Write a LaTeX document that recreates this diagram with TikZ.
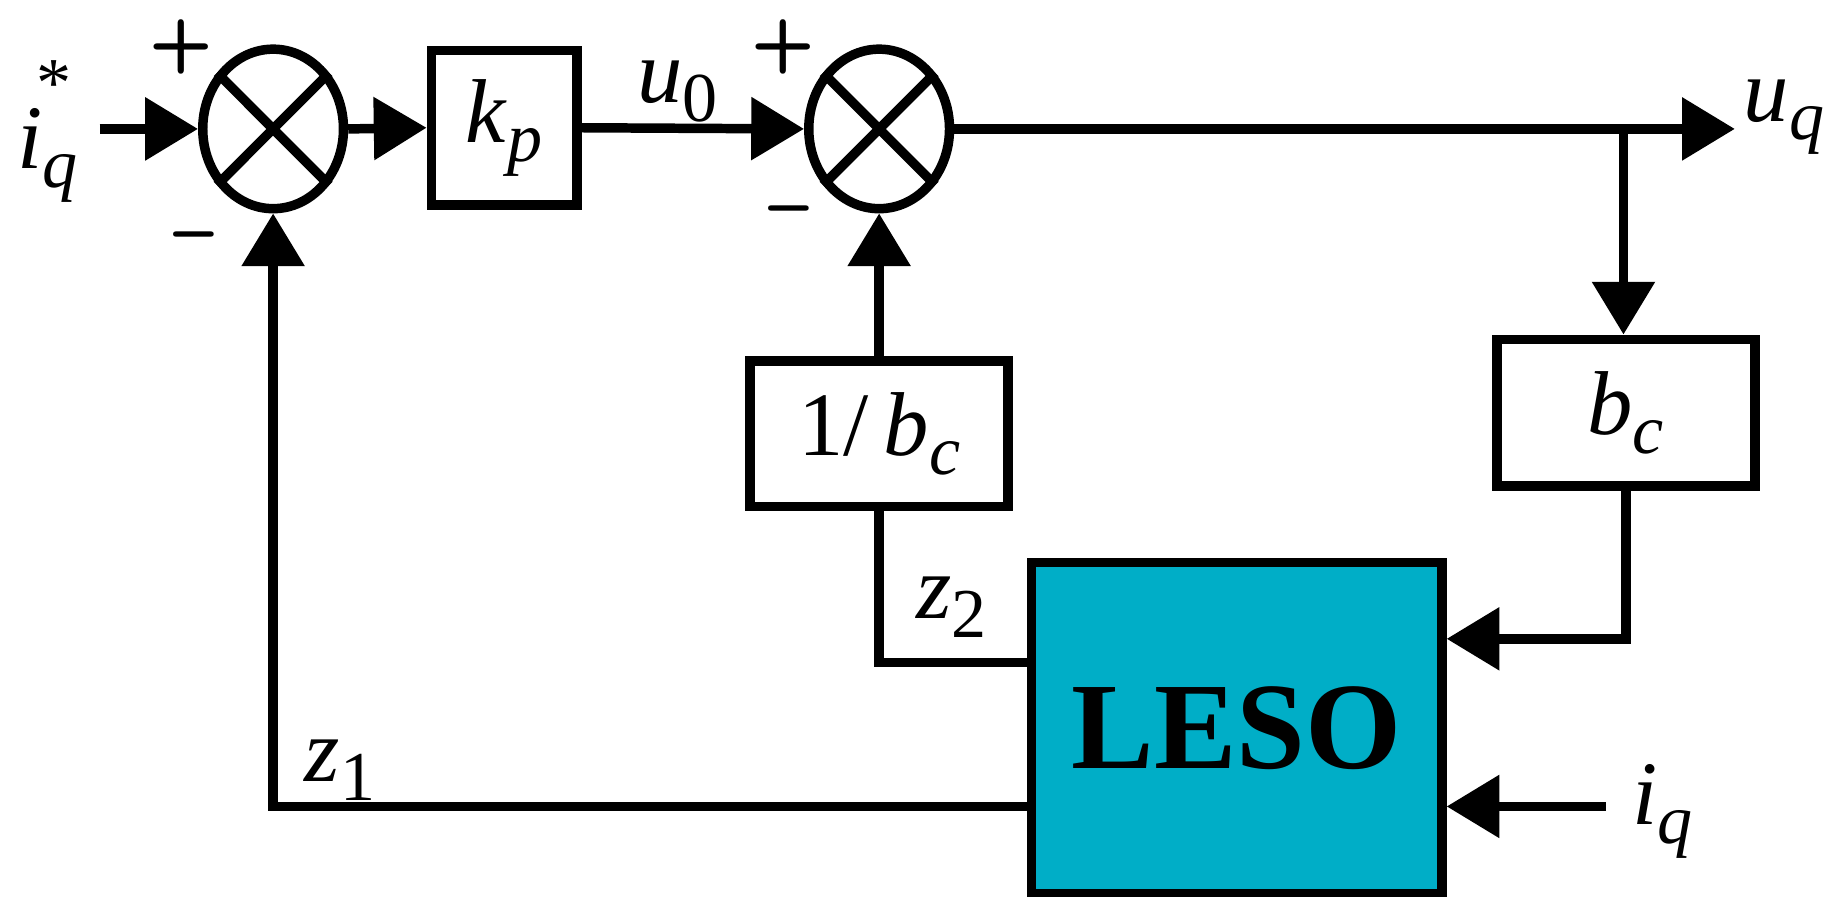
\documentclass[tikz,border=0pt]{standalone}
\usepackage{fontspec}
\setmainfont{Liberation Serif}
\usetikzlibrary{arrows.meta,shapes.geometric}
\newcommand{\lowsub}[1]{\raisebox{-0.45ex}{\fontsize{17}{17}\selectfont\textit{#1}}}
\newcommand{\lowsubr}[1]{\raisebox{-0.45ex}{\fontsize{17}{17}\selectfont #1}}
\definecolor{lesoc}{RGB}{0,174,199}
\begin{document}
\begin{tikzpicture}[x=0.01cm,y=-0.01cm,line width=2.3pt,
  sum/.style={draw,ellipse,minimum width=1.2cm,minimum height=1.36cm,inner sep=0},
  arr/.style={-{Triangle[length=0.45cm,width=0.52cm]}},
  lbl/.style={font=\fontsize{22}{24}\selectfont},
  sgn/.style={font=\sffamily\bfseries\fontsize{18}{18}\selectfont}]
\useasboundingbox (0,0) rectangle (1568,765);
\node[sum] (s1) at (233,110) {};
\draw (s1.45) -- (s1.225) (s1.135) -- (s1.315);
\node[sum] (s2) at (750,110) {};
\draw (s2.45) -- (s2.225) (s2.135) -- (s2.315);
\node[draw,minimum width=1.24cm,minimum height=1.32cm,inner sep=0,lbl] (kp) at (430,109) {\textit{k}\lowsub{p}};
\node[draw,minimum width=2.2cm,minimum height=1.24cm,inner sep=0,lbl] (ib) at (750,370) {1/\,\textit{b}\lowsub{c}};
\node[draw,minimum width=2.2cm,minimum height=1.25cm,inner sep=0,lbl] (bc) at (1387,352) {\textit{b}\lowsub{c}};
\node[draw,fill=lesoc,minimum width=3.5cm,minimum height=2.82cm,inner sep=0,font=\bfseries\fontsize{30}{30}\selectfont] (leso) at (1055,621) {LESO};
\coordinate (in1) at (85,110);
\coordinate (out) at (1480,110);
\coordinate (br) at (1385,110);
\coordinate (iqin) at (1370,688);
\coordinate (y545) at (0,545);
\coordinate (y565) at (0,565);
\coordinate (y688) at (0,688);
\draw[arr] (in1) -- (s1.west);
\draw[arr] (s1.east) -- (kp.west);
\draw[arr] (kp.east) -- (s2.west);
\draw[arr] (s2.east) -- (out);
\draw[arr] (br) -- (br|-bc.north);
\draw[arr] (bc.south) |- (leso.east|-y545);
\draw[arr] (iqin) -- (leso.east|-iqin);
\draw[arr] (leso.west|-y688) -| (s1.south);
\draw[arr] (ib.north) -- (s2.south);
\draw (ib.south) |- (leso.west|-y565);
\node[lbl] at (38,112) {\textit{i}\raisebox{-0.45ex}{\fontsize{17}{17}\selectfont\textit{q}}\hspace{-0.45em}\raisebox{1.5ex}{\fontsize{17}{17}\selectfont *}};
\node[lbl] at (1522,100) {\textit{u}\lowsub{q}};
\node[lbl] at (1418,692) {\textit{i}\lowsub{q}};
\node[lbl] at (578,78) {\textit{u}\lowsubr{0}};
\node[lbl] at (812,518) {\textit{z}\lowsubr{2}};
\node[lbl] at (290,657) {\textit{z}\lowsubr{1}};
\node[sgn] at (155,40) {+};
\node[sgn] at (165,208) {\textendash};
\node[sgn] at (668,40) {+};
\node[sgn] at (673,186) {\textendash};
\end{tikzpicture}
\end{document}
